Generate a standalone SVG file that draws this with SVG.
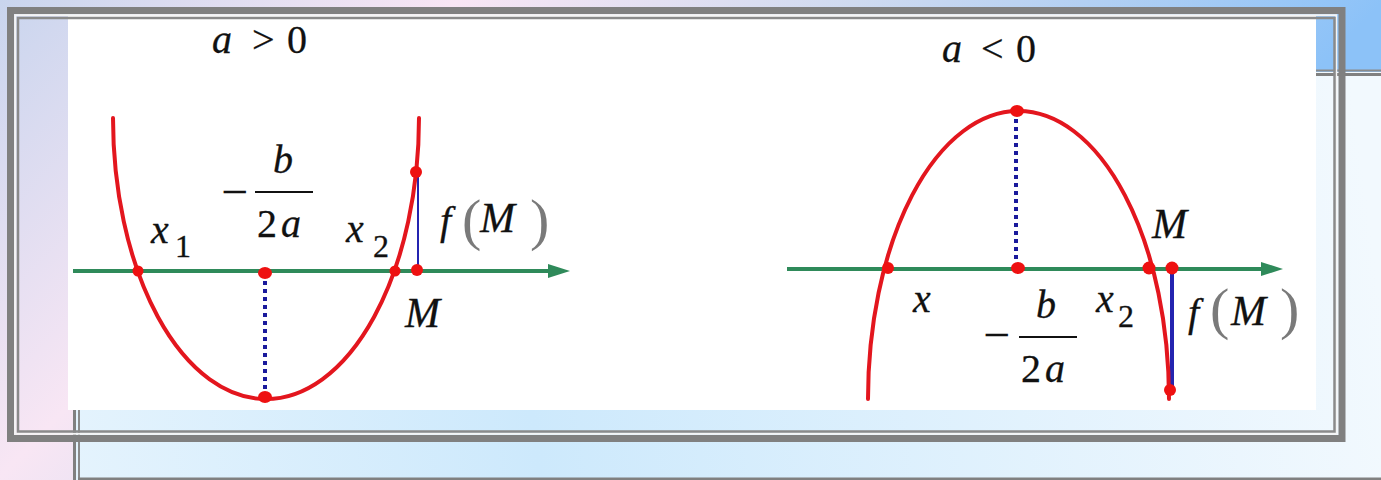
<svg xmlns="http://www.w3.org/2000/svg" width="1381" height="480" viewBox="0 0 1381 480">
<defs>
<linearGradient id="bgOuter" gradientUnits="userSpaceOnUse" x1="0" y1="0" x2="722" y2="692">
<stop offset="0" stop-color="#c9d5ee"/>
<stop offset="0.33" stop-color="#f8e6f4"/>
<stop offset="0.62" stop-color="#cfdaf0"/>
<stop offset="0.85" stop-color="#a8ccf4"/>
<stop offset="1" stop-color="#8cc2f8"/>
</linearGradient>
<linearGradient id="bgInner" gradientUnits="userSpaceOnUse" x1="75" y1="480" x2="1381" y2="300">
<stop offset="0" stop-color="#e4f3fd"/>
<stop offset="0.35" stop-color="#cde9fc"/>
<stop offset="1" stop-color="#f2f9fe"/>
</linearGradient>
<marker id="arrow" markerUnits="userSpaceOnUse" viewBox="0 0 22 14" markerWidth="22" markerHeight="14" refX="7" refY="7" orient="auto">
<path d="M0,0 L22,7 L0,14 z" fill="#2f8a5a"/>
</marker>
<style>
text{font-family:'Liberation Serif','DejaVu Serif',serif}
.t{font-size:40px;fill:#111;stroke:#111;stroke-width:0.3}
.i{font-style:italic}
.sub{font-size:32px}
.big{font-size:42px}
.minus{font-size:48px;stroke:none}
.par{font-size:58px;fill:#7a7a7a;stroke:none}
.curve{fill:none;stroke:#e3161e;stroke-width:4;stroke-linecap:round}
.axis{stroke:#2f8a5a;stroke-width:4}
.dot{fill:#ee1111}
.dotted{stroke:#1a1a9c;stroke-width:4;stroke-dasharray:4 4}
.seg{stroke:#2424b0}
.bar{stroke:#111;stroke-width:2.2}
.thick{fill:none;stroke:#808080}
.thin{fill:none;stroke:#8a8a8a;stroke-width:2.5}
</style>
</defs>

<g id="background">
<rect x="0" y="0" width="1381" height="480" fill="url(#bgOuter)"/>
<rect x="75" y="72" width="1306" height="408" fill="url(#bgInner)"/>
<g id="frame2">
<line x1="74.5" y1="70" x2="74.5" y2="480" stroke="#808080" stroke-width="3"/>
<line x1="79" y1="74" x2="79" y2="480" stroke="#8a8a8a" stroke-width="2"/>
<line x1="73" y1="70.5" x2="1381" y2="70.5" stroke="#8a8a8a" stroke-width="2"/>
<line x1="73" y1="74.5" x2="1381" y2="74.5" stroke="#808080" stroke-width="3"/>
<line x1="78" y1="479" x2="1381" y2="479" stroke="#808080" stroke-width="3"/>
</g>
</g>

<rect id="panel" x="68" y="16" width="1248" height="394" fill="#ffffff"/>

<g id="frame1">
<rect class="thick" x="10.5" y="10.5" width="1331.5" height="428" stroke-width="7"/>
<rect x="15.2" y="15.2" width="1321" height="418.5" fill="none" stroke="#f4f4f4" stroke-width="2"/>
<rect class="thin" x="18" y="18" width="1316.5" height="413.5"/>
</g>

<g id="plot-left">
<text class="t i" x="212" y="53">a</text>
<text class="t" x="252" y="53">&gt;</text>
<text class="t" x="287" y="53">0</text>

<g id="connectors-left">
<line class="axis" x1="73" y1="271" x2="555" y2="271" marker-end="url(#arrow)"/>
<line class="dotted" x1="265" y1="281" x2="265" y2="393"/>
<line class="seg" x1="418" y1="172" x2="418" y2="270" stroke-width="2"/>
</g>

<path id="parabola-up" class="curve" d="M113,118 A153,281 0 0 0 419,118"/>

<g id="points-left">
<circle class="dot" cx="138" cy="271" r="5.5"/>
<ellipse class="dot" cx="265" cy="273" rx="7" ry="6"/>
<ellipse class="dot" cx="265" cy="397" rx="7" ry="6"/>
<circle class="dot" cx="395" cy="271" r="5.5"/>
<circle class="dot" cx="417" cy="270" r="6"/>
<circle class="dot" cx="416" cy="172" r="6"/>
</g>

<g id="labels-left">
<text class="t i" x="151" y="243">x</text>
<text class="t sub" x="175" y="257">1</text>
<text class="t minus" x="221" y="208">−</text>
<text class="t i" x="273" y="173">b</text>
<line class="bar" x1="255" y1="192" x2="313" y2="192"/>
<text class="t" x="257" y="237">2</text>
<text class="t i" x="281" y="237">a</text>
<text class="t i" x="346" y="242">x</text>
<text class="t sub" x="373" y="257">2</text>
<text class="t i" x="440" y="234">f</text>
<text class="t par" x="462" y="239">(</text>
<text class="t i big" x="480" y="232">M</text>
<text class="t par" x="530" y="239">)</text>
<text class="t i big" x="405" y="327">M</text>
</g>
</g>

<g id="plot-right">
<text class="t i" x="942" y="62">a</text>
<text class="t" x="981" y="62">&lt;</text>
<text class="t" x="1016" y="62">0</text>

<g id="connectors-right">
<line class="axis" x1="787" y1="269" x2="1268" y2="269" marker-end="url(#arrow)"/>
<line class="dotted" x1="1016" y1="119" x2="1016" y2="262"/>
<line class="seg" x1="1172" y1="270" x2="1172" y2="390" stroke-width="4"/>
</g>

<path id="parabola-down" class="curve" d="M868,399 A150.5,288 0 0 1 1169,399"/>

<g id="points-right">
<ellipse class="dot" cx="1017" cy="111" rx="7" ry="6"/>
<ellipse class="dot" cx="1018" cy="268" rx="7" ry="6"/>
<circle class="dot" cx="888" cy="268" r="6"/>
<circle class="dot" cx="1149" cy="268" r="6.5"/>
<circle class="dot" cx="1172" cy="268" r="6.5"/>
<circle class="dot" cx="1170" cy="390" r="6"/>
</g>

<g id="labels-right">
<text class="t i big" x="1152" y="238">M</text>
<text class="t i" x="913" y="312">x</text>
<text class="t minus" x="983" y="351">−</text>
<text class="t i" x="1036" y="318">b</text>
<line class="bar" x1="1019" y1="337" x2="1077" y2="337"/>
<text class="t" x="1021" y="382">2</text>
<text class="t i" x="1045" y="382">a</text>
<text class="t i" x="1096" y="312">x</text>
<text class="t sub" x="1118" y="327">2</text>
<text class="t i" x="1188" y="326">f</text>
<text class="t par" x="1210" y="328">(</text>
<text class="t i big" x="1231" y="325">M</text>
<text class="t par" x="1280" y="328">)</text>
</g>
</g>
</svg>
